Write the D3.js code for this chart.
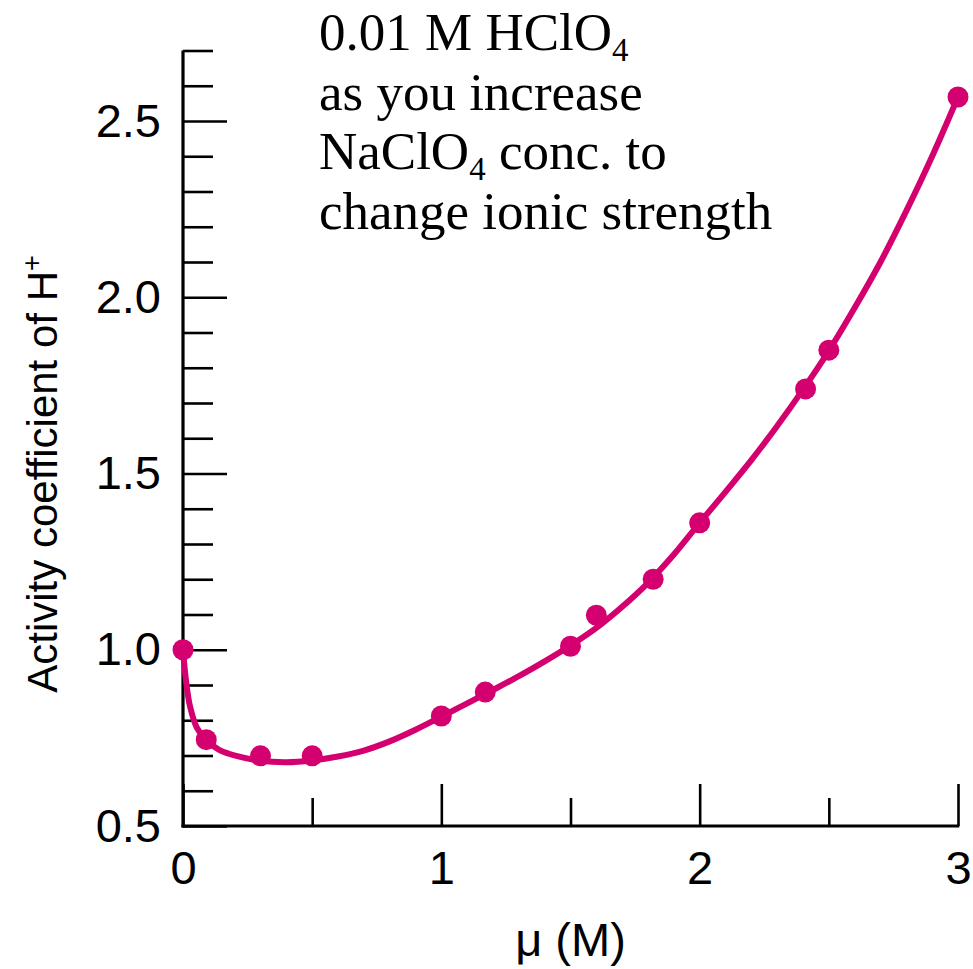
<!DOCTYPE html>
<html>
<head>
<meta charset="utf-8">
<script src="https://cdn.jsdelivr.net/npm/d3@7"></script>
<style>
  html, body { margin: 0; padding: 0; background: #fff; }
  svg { display: block; }
</style>
</head>
<body>
<svg id="chart" width="973" height="969"></svg>
<script>
// Measured data points (ionic strength μ, activity coefficient of H+)
const pointMu    = [0, 0.09, 0.30, 0.50, 1.00, 1.17, 1.50, 1.60, 1.82, 2.00, 2.41, 2.50, 3.00];
const pointGamma = [1.00, 0.745, 0.699, 0.699, 0.812, 0.880, 1.010, 1.098, 1.200, 1.360, 1.740, 1.850, 2.568];

// Smooth fitted curve
const curveMu    = [0, 0.012, 0.027, 0.053, 0.088, 0.14, 0.21, 0.30, 0.40, 0.50, 0.60, 0.70, 0.80, 0.90, 1.00, 1.10, 1.20, 1.30, 1.40, 1.50, 1.60, 1.70, 1.80, 1.90, 2.00, 2.10, 2.20, 2.30, 2.40, 2.50, 2.60, 2.70, 2.80, 2.90, 3.00];
const curveGamma = [1.00, 0.91, 0.84, 0.78, 0.745, 0.716, 0.698, 0.685, 0.681, 0.686, 0.697, 0.714, 0.740, 0.773, 0.810, 0.848, 0.886, 0.925, 0.967, 1.012, 1.062, 1.122, 1.190, 1.270, 1.360, 1.448, 1.538, 1.635, 1.738, 1.848, 1.970, 2.100, 2.245, 2.400, 2.568];

// Axis ticks and labels
const xMajorTicks = [0, 1, 2, 3];
const xMinorTicks = [0.5, 1.5, 2.5];
const yMajorTicks = [0.5, 1.0, 1.5, 2.0, 2.5];
const yMinorTicks = [0.6, 0.7, 0.8, 0.9, 1.1, 1.2, 1.3, 1.4, 1.6, 1.7, 1.8, 1.9, 2.1, 2.2, 2.3, 2.4, 2.6, 2.7];

const xTitle = "μ (M)";
const yTitle = "Activity coefficient of H";
const yTitleSup = "+";
const noteLines = [
  [["0.01 M HClO", false], ["4", true]],
  [["as you increase", false]],
  [["NaClO", false], ["4", true], [" conc. to", false]],
  [["change ionic strength", false]]
];

const color = "#d5006f";
const svg = d3.select("#chart");

const x = d3.scaleLinear().domain([0, 3]).range([183, 958]);
const y = d3.scaleLinear().domain([0.5, 2.7]).range([826, 50.5]);

const sansFont = "'Liberation Sans', Arial, Helvetica, sans-serif";
const serifFont = "'Liberation Serif', 'Times New Roman', serif";

// Y axis minor ticks
svg.append("g")
  .attr("transform", `translate(${x(0)},0)`)
  .call(d3.axisLeft(y).tickValues(yMinorTicks).tickSize(-30).tickFormat(""))
  .call(g => g.select(".domain").remove())
  .call(g => g.selectAll("line").attr("stroke", "#000").attr("stroke-width", 2.6));

// Y axis major ticks with labels
svg.append("g")
  .attr("transform", `translate(${x(0)},0)`)
  .call(d3.axisLeft(y).tickValues(yMajorTicks).tickSize(-44).tickPadding(22).tickFormat(d3.format(".1f")))
  .call(g => g.select(".domain").remove())
  .call(g => g.selectAll("line").attr("stroke", "#000").attr("stroke-width", 2.6))
  .call(g => g.selectAll("text").attr("fill", "#000").style("font-family", sansFont).style("font-size", "47px"));

// X axis minor ticks
svg.append("g")
  .attr("transform", `translate(0,${y(0.5)})`)
  .call(d3.axisBottom(x).tickValues(xMinorTicks).tickSize(-28).tickFormat(""))
  .call(g => g.select(".domain").remove())
  .call(g => g.selectAll("line").attr("stroke", "#000").attr("stroke-width", 2.6));

// X axis major ticks with labels
svg.append("g")
  .attr("transform", `translate(0,${y(0.5)})`)
  .call(d3.axisBottom(x).tickValues(xMajorTicks).tickSize(-42).tickPadding(25).tickFormat(d3.format("d")))
  .call(g => g.select(".domain").remove())
  .call(g => g.selectAll("line").attr("stroke", "#000").attr("stroke-width", 2.6))
  .call(g => g.selectAll("text").attr("fill", "#000").style("font-family", sansFont).style("font-size", "47px"));

// Axis lines
svg.append("line")
  .attr("x1", x(0)).attr("x2", x(0))
  .attr("y1", y(2.7)).attr("y2", y(0.5) + 1.5)
  .attr("stroke", "#000").attr("stroke-width", 3.2);
svg.append("line")
  .attr("x1", x(0) - 1.5).attr("x2", x(3) + 1.3)
  .attr("y1", y(0.5)).attr("y2", y(0.5))
  .attr("stroke", "#000").attr("stroke-width", 3.2);

// Curve
const curveData = curveMu.map((m, i) => [m, curveGamma[i]]);
svg.append("path")
  .datum(curveData)
  .attr("fill", "none")
  .attr("stroke", color)
  .attr("stroke-width", 6)
  .attr("stroke-linecap", "round")
  .attr("d", d3.line().x(d => x(d[0])).y(d => y(d[1])).curve(d3.curveCatmullRom.alpha(0.5)));

// Points
svg.append("g").selectAll("circle")
  .data(pointMu.map((m, i) => [m, pointGamma[i]]))
  .join("circle")
  .attr("cx", d => x(d[0]))
  .attr("cy", d => y(d[1]))
  .attr("r", 10.5)
  .attr("fill", color);

// Axis titles
svg.append("text")
  .attr("x", (x(0) + x(3)) / 2)
  .attr("y", 956)
  .attr("text-anchor", "middle")
  .style("font-family", sansFont)
  .style("font-size", "47px")
  .attr("fill", "#000")
  .text(xTitle);

const yt = svg.append("text")
  .attr("transform", `translate(57,474) rotate(-90)`)
  .attr("text-anchor", "middle")
  .style("font-family", sansFont)
  .style("font-size", "42px")
  .attr("fill", "#000");
yt.append("tspan").text(yTitle);
yt.append("tspan").attr("dy", -16).style("font-size", "27px").text(yTitleSup);

// Annotation
const note = svg.append("g");
noteLines.forEach((line, i) => {
  const t = note.append("text")
    .attr("x", 319)
    .attr("y", 50 + i * 59.5)
    .style("font-family", serifFont)
    .style("font-size", "53px")
    .attr("fill", "#000");
  let shifted = false;
  line.forEach(([s, sub]) => {
    const ts = t.append("tspan").text(s);
    if (sub) { ts.attr("dy", 11).style("font-size", "33px"); shifted = true; }
    else if (shifted) { ts.attr("dy", -11); shifted = false; }
  });
});
</script>
</body>
</html>
